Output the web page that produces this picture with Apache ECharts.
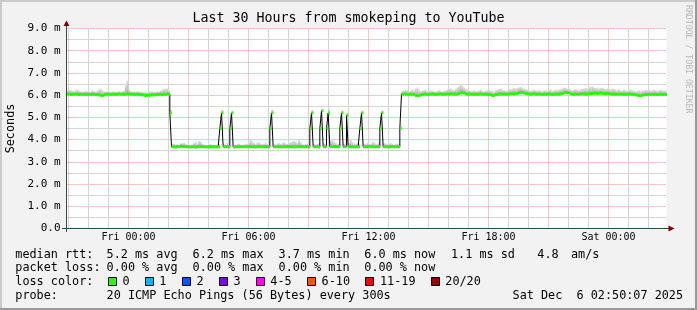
<!DOCTYPE html>
<html><head><meta charset="utf-8">
<script src="https://cdn.jsdelivr.net/npm/echarts@6/dist/echarts.min.js"></script>
<style>html,body{margin:0;padding:0;background:#f2f2f2}#c{width:697px;height:310px}</style>
</head><body><div id="c"></div>
<script>
// ---------- data ----------
const START_HOUR = -3.1;          // first sample, hours relative to Fri 00:00
const STEP_HOURS = 5 / 60;        // 300 s probe step
const SPAN_HOURS = 30;
const xTickHours = [0, 6, 12, 18, 24];
const xTickLabels = ['Fri 00:00', 'Fri 06:00', 'Fri 12:00', 'Fri 18:00', 'Sat 00:00'];

// median rtt in ms, one row = one hour (12 x 5 min)
const median = [
6.04,6.05,6.03,6.04,6.04,6.05,6.04,6.03,6.04,6.04,6.04,6.03,
6.04,6.04,6.03,6.04,6.04,6.03,6.02,6.02,5.98,5.97,6.02,6.04,
6.04,6.04,6.03,6.04,6.04,6.04,6.04,6.05,6.04,6.04,6.04,6.04,
6.06,6.05,6.04,6.04,6.04,6.03,6.04,6.03,6.02,6.02,6.00,5.99,
6.00,5.99,6.01,6.02,6.01,6.02,6.04,6.03,6.04,6.02,6.04,6.03,
6.05,6.04,5.20,3.68,3.68,3.67,3.68,3.69,3.70,3.70,3.69,3.68,
3.68,3.68,3.67,3.68,3.68,3.66,3.68,3.68,3.69,3.68,3.68,3.68,
3.67,3.68,3.68,3.69,3.68,3.68,3.67,3.68,4.50,5.20,3.68,3.68,
3.68,3.68,4.50,5.20,3.67,3.68,3.68,3.68,3.69,3.68,3.68,3.68,
3.68,3.69,3.68,3.68,3.68,3.67,3.68,3.68,3.68,3.68,3.69,3.68,
3.68,3.68,4.50,5.20,3.68,3.68,3.69,3.68,3.68,3.67,3.68,3.68,
3.69,3.68,3.68,3.68,3.67,3.68,3.68,3.69,3.68,3.68,3.68,3.68,
3.68,3.68,4.50,5.20,3.68,3.68,3.68,3.67,4.50,5.30,3.68,3.68,
4.50,5.20,3.68,3.68,3.69,3.68,3.68,3.68,4.50,5.20,3.68,3.68,
5.10,3.68,3.68,3.68,3.67,3.68,3.68,3.68,4.50,5.20,3.68,3.68,
3.68,3.69,3.68,3.68,3.68,3.68,3.68,3.68,4.50,5.20,3.68,3.68,
3.68,3.68,3.68,3.69,3.68,3.68,3.68,3.68,4.50,6.04,6.05,6.04,
6.04,6.03,6.04,6.04,6.03,5.99,5.97,5.98,6.01,6.03,6.04,6.04,
6.03,6.04,6.04,6.05,6.04,6.03,6.04,6.04,6.05,6.04,6.04,6.04,
6.05,6.04,6.06,6.05,6.04,6.05,6.04,6.07,6.10,6.12,6.10,6.06,
6.04,6.05,6.04,6.04,6.03,6.04,6.04,6.04,6.05,6.04,6.03,6.04,
6.04,6.03,6.02,5.99,5.98,6.02,6.04,6.04,6.05,6.04,6.05,6.04,
6.04,6.05,6.06,6.06,6.05,6.07,6.08,6.10,6.13,6.12,6.10,6.08,
6.07,6.05,6.04,6.05,6.06,6.04,6.04,6.05,6.04,6.03,6.04,6.04,
6.04,6.05,6.04,6.03,6.04,6.04,6.05,6.04,6.06,6.08,6.10,6.12,
6.12,6.10,6.06,6.04,6.04,6.05,6.04,6.04,6.05,6.06,6.05,6.04,
6.05,6.06,6.07,6.08,6.09,6.10,6.08,6.09,6.10,6.08,6.07,6.06,
6.08,6.07,6.05,6.04,6.05,6.04,6.04,6.05,6.04,6.04,6.04,6.03,
6.04,6.05,6.04,6.03,6.03,6.02,6.00,5.98,5.97,6.00,6.02,6.03,
6.03,6.04,6.03,6.04,6.03,6.04,6.03,6.03,6.04,6.03,6.04,6.03
];

// highest ping of each round (top of the smoke), ms
const smokeHi = [
6.22,6.25,6.24,6.20,6.18,6.22,6.26,6.21,6.18,6.15,6.17,6.20,
6.18,6.16,6.15,6.22,6.18,6.16,6.20,6.25,6.30,6.22,6.18,6.15,
6.17,6.16,6.15,6.17,6.16,6.15,6.16,6.18,6.15,6.17,6.20,6.45,
6.66,6.25,6.18,6.15,6.17,6.15,6.18,6.16,6.15,6.14,6.13,6.15,
6.14,6.16,6.18,6.16,6.15,6.14,6.18,6.16,6.20,6.25,6.30,6.28,
6.30,6.22,5.35,3.80,3.82,3.78,3.80,3.76,3.84,3.84,3.85,3.80,
3.78,3.76,3.75,3.80,3.85,3.90,3.82,3.94,3.90,3.80,3.78,3.75,
3.76,3.78,3.80,3.78,3.76,3.75,3.78,3.80,4.55,5.35,3.80,3.78,
3.85,3.78,4.55,5.30,3.76,3.78,3.80,3.82,3.78,3.76,3.78,3.80,
3.82,3.85,4.03,3.90,3.85,3.80,3.87,3.87,3.82,3.80,3.82,3.85,
3.80,3.82,4.55,5.35,3.80,3.78,3.82,3.85,3.80,3.85,3.88,3.82,
3.80,3.85,3.88,3.92,3.95,3.90,3.85,4.00,3.88,3.80,3.78,3.80,
3.82,3.80,4.58,5.32,3.82,3.78,3.80,3.85,4.58,5.37,3.82,3.80,
4.58,5.35,3.95,4.00,3.90,3.85,3.80,3.82,4.55,5.32,3.80,3.82,
5.20,3.85,4.00,3.88,3.82,3.80,3.85,3.82,4.55,5.30,3.82,3.80,
3.85,3.82,3.80,3.90,3.88,3.82,3.80,3.90,4.55,5.32,3.85,3.82,
3.80,3.82,3.85,3.80,3.78,3.80,3.82,3.80,4.60,6.20,6.22,6.25,
6.22,6.18,6.20,6.25,6.22,6.30,6.35,6.25,6.18,6.20,6.22,6.25,
6.20,6.18,6.22,6.20,6.18,6.16,6.20,6.22,6.18,6.16,6.20,6.22,
6.25,6.28,6.30,6.25,6.22,6.30,6.35,6.40,6.50,6.42,6.35,6.28,
6.25,6.22,6.20,6.18,6.22,6.20,6.18,6.22,6.25,6.20,6.18,6.20,
6.22,6.25,6.20,6.18,6.15,6.22,6.25,6.28,6.30,6.25,6.22,6.20,
6.22,6.25,6.28,6.30,6.32,6.30,6.33,6.35,6.38,6.32,6.30,6.28,
6.25,6.22,6.20,6.22,6.25,6.22,6.20,6.22,6.20,6.18,6.20,6.22,
6.20,6.22,6.25,6.20,6.22,6.25,6.22,6.25,6.28,6.30,6.35,6.32,
6.30,6.28,6.25,6.22,6.25,6.28,6.25,6.22,6.25,6.28,6.30,6.32,
6.30,6.35,6.38,6.40,6.35,6.32,6.35,6.30,6.32,6.35,6.30,6.28,
6.30,6.28,6.25,6.30,6.28,6.25,6.22,6.25,6.22,6.20,6.25,6.22,
6.20,6.22,6.25,6.22,6.20,6.18,6.20,6.22,6.18,6.20,6.22,6.25,
6.22,6.25,6.20,6.22,6.25,6.22,6.20,6.22,6.25,6.22,6.20,6.22
];

const titleText = 'Last 30 Hours from smokeping to YouTube';
const rttStats = ['5.2 ms avg', '6.2 ms max', '3.7 ms min', '6.0 ms now', '1.1 ms sd', '4.8', 'am/s'];
const lossStats = ['0.00 % avg', '0.00 % max', '0.00 % min', '0.00 % now'];
const lossLabels = ['0', '1', '2', '3', '4-5', '6-10', '11-19', '20/20'];
const lossColors = ['#26ff00', '#00b8ff', '#0059ff', '#7e00ff', '#ff00ff', '#ff5500', '#ff0000', '#a10000'];
const probeText = '20 ICMP Echo Pings (56 Bytes) every 300s';
const dateText = 'Sat Dec  6 02:50:07 2025';

// ---------- build ----------
const MONO = "'DejaVu Sans Mono', monospace";
const hours = median.map((_, i) => START_HOUR + i * STEP_HOURS);
const rows = median.map((m, i) => [hours[i], m, smokeHi[i]]);
const lineData = rows.map(r => [r[0], r[1]]);
lineData.push([START_HOUR + SPAN_HOURS, median[median.length - 1]]);

const gridHours = [];
for (let h = Math.ceil(START_HOUR); h < START_HOUR + SPAN_HOURS; h++) gridHours.push([h, 0, 9]);

const MGRID = '#e49090';
const GRID = '#d4d4d4';
const AXIS = '#2c4d43';
const ARROW = '#7f0000';

const smokeFill = new echarts.graphic.LinearGradient(0, 0, 0, 1, [
  { offset: 0, color: '#e0e0e0' }, { offset: 1, color: '#a8a8a8' }
]);

const LF = 11.8;
function t(x, y, s, extra) {
  return Object.assign({ type: 'text', x: x, y: y, silent: true, z: 100,
    style: Object.assign({ text: s, fill: '#000', fontFamily: MONO, fontSize: LF, align: 'left', verticalAlign: 'middle' }, extra || {}) });
}
const Y1 = 254.5, Y2 = 268, Y3 = 282, Y4 = 296;
const graphics = [
  { type: 'rect', shape: { x: 0, y: 0, width: 697, height: 2 }, style: { fill: '#cbcbcb' }, silent: true },
  { type: 'rect', shape: { x: 0, y: 0, width: 2, height: 310 }, style: { fill: '#cbcbcb' }, silent: true },
  { type: 'rect', shape: { x: 0, y: 308, width: 697, height: 2 }, style: { fill: '#999999' }, silent: true },
  { type: 'rect', shape: { x: 695, y: 0, width: 2, height: 310 }, style: { fill: '#999999' }, silent: true },
  { type: 'line', shape: { x1: 66.5, y1: 25, x2: 66.5, y2: 232 }, style: { stroke: AXIS, lineWidth: 1 }, silent: true, z: 50 },
  { type: 'line', shape: { x1: 62, y1: 228.5, x2: 669, y2: 228.5 }, style: { stroke: AXIS, lineWidth: 1 }, silent: true, z: 50 },
  { type: 'polygon', shape: { points: [[63.5, 26], [66.5, 20.5], [69.5, 26]] }, style: { fill: ARROW }, silent: true, z: 50 },
  { type: 'polygon', shape: { points: [[668.5, 225.5], [674.5, 228.5], [668.5, 231.5]] }, style: { fill: ARROW }, silent: true, z: 50 },
  { type: 'text', x: 688.5, y: 5, rotation: -Math.PI / 2, silent: true,
    style: { text: 'RRDTOOL / TOBI OETIKER', fill: '#b8b8b8', fontFamily: MONO, fontSize: 8.2, align: 'left', verticalAlign: 'middle' } },
  t(15.3, Y1, 'median rtt:'),
  t(106.6, Y1, rttStats[0]), t(192.6, Y1, rttStats[1]), t(278.6, Y1, rttStats[2]),
  t(364.3, Y1, rttStats[3]), t(451, Y1, rttStats[4]), t(537.3, Y1, rttStats[5]), t(571, Y1, rttStats[6]),
  t(15.3, Y2, 'packet loss:'),
  t(106.6, Y2, lossStats[0]), t(192.6, Y2, lossStats[1]), t(278.6, Y2, lossStats[2]), t(364.3, Y2, lossStats[3]),
  t(15.3, Y3, 'loss color:'),
  t(15.3, Y4, 'probe:'), t(106.6, Y4, probeText), t(512.6, Y4, dateText)
];
const boxX = [108.5, 145.5, 182.5, 219.5, 256.5, 307.5, 365.5, 431.5];
const labX = [122.6, 159.3, 196.6, 233.6, 270.3, 321.6, 380, 445.3];
lossLabels.forEach((lab, k) => {
  graphics.push({ type: 'rect', shape: { x: boxX[k], y: Y3 - 4.5, width: 8, height: 8 },
    style: { fill: lossColors[k], stroke: '#000', lineWidth: 1 }, silent: true, z: 100 });
  graphics.push(t(labX[k], Y3, lab));
});

const chart = echarts.init(document.getElementById('c'), null, { renderer: 'canvas' });
chart.setOption({
  animation: false,
  backgroundColor: '#f2f2f2',
  title: { text: titleText, left: 'center', top: 7,
    textStyle: { fontFamily: MONO, fontSize: 13.3, fontWeight: 'normal', color: '#000' } },
  grid: { left: 66.5, right: 30.5, top: 28.5, bottom: 81.5, show: true, backgroundColor: '#ffffff', borderWidth: 0,
    containLabel: false, outerBoundsMode: 'none' },
  xAxis: {
    type: 'value', min: START_HOUR, max: START_HOUR + SPAN_HOURS,
    axisLine: { show: false }, axisTick: { show: false }, splitLine: { show: false },
    axisLabel: {
      customValues: xTickHours,
      formatter: v => { const k = xTickHours.indexOf(Math.round(v)); return k >= 0 ? xTickLabels[k] : ''; },
      fontFamily: MONO, fontSize: 10, color: '#000', margin: 4
    }
  },
  yAxis: {
    type: 'value', min: 0, max: 9, interval: 1,
    name: 'Seconds', nameLocation: 'middle', nameRotate: 90, nameGap: 49,
    nameTextStyle: { fontFamily: MONO, fontSize: LF, color: '#000' },
    axisLine: { show: false }, axisTick: { show: false },
    axisLabel: { formatter: v => (v === 0 ? '0.0' : v.toFixed(1) + ' m'), fontFamily: MONO, fontSize: 11, color: '#000', margin: 6 },
    splitLine: { show: true, lineStyle: { color: MGRID, type: [1, 1], width: 1 } },
    minorTick: { show: false, splitNumber: 2 },
    minorSplitLine: { show: true, lineStyle: { color: GRID, type: 'solid', width: 1 } }
  },
  graphic: graphics,
  series: [
    {
      name: 'hour grid', type: 'custom', z: 1, silent: true, clip: true,
      data: gridHours, encode: { x: 0, y: [1, 2] },
      renderItem: (params, api) => {
        const h = api.value(0);
        const a = api.coord([h, api.value(1)]), b = api.coord([h, api.value(2)]);
        const major = (((Math.round(h) % 3) + 3) % 3) === 0;
        return { type: 'line', shape: { x1: a[0], y1: a[1], x2: b[0], y2: b[1] },
          style: major ? { stroke: MGRID, lineWidth: 1, lineDash: [1, 1] } : { stroke: GRID, lineWidth: 1 } };
      }
    },
    {
      name: 'smoke', type: 'custom', z: 2, silent: true, clip: true,
      data: rows, encode: { x: 0, y: [1, 2] },
      renderItem: (params, api) => {
        const h = api.value(0), m = api.value(1), hi = api.value(2);
        const a = api.coord([h, hi]), b = api.coord([h + STEP_HOURS, m]);
        return { type: 'rect', shape: { x: a[0], y: a[1], width: b[0] - a[0] + 0.2, height: b[1] - a[1] },
          style: { fill: smokeFill } };
      }
    },
    {
      name: 'median', type: 'line', step: 'end', z: 3, silent: true, symbol: 'none',
      data: lineData, lineStyle: { color: '#000', width: 1 }
    },
    {
      name: 'loss band', type: 'custom', z: 4, silent: true, clip: true,
      data: rows, encode: { x: 0, y: 1 },
      renderItem: (params, api) => {
        const h = api.value(0), m = api.value(1);
        const a = api.coord([h, m]), b = api.coord([h + STEP_HOURS, m]);
        return { type: 'rect', shape: { x: a[0], y: a[1] - 1.5, width: b[0] - a[0] + 0.2, height: 3 },
          style: { fill: lossColors[0] } };
      }
    }
  ]
});
</script></body></html>
